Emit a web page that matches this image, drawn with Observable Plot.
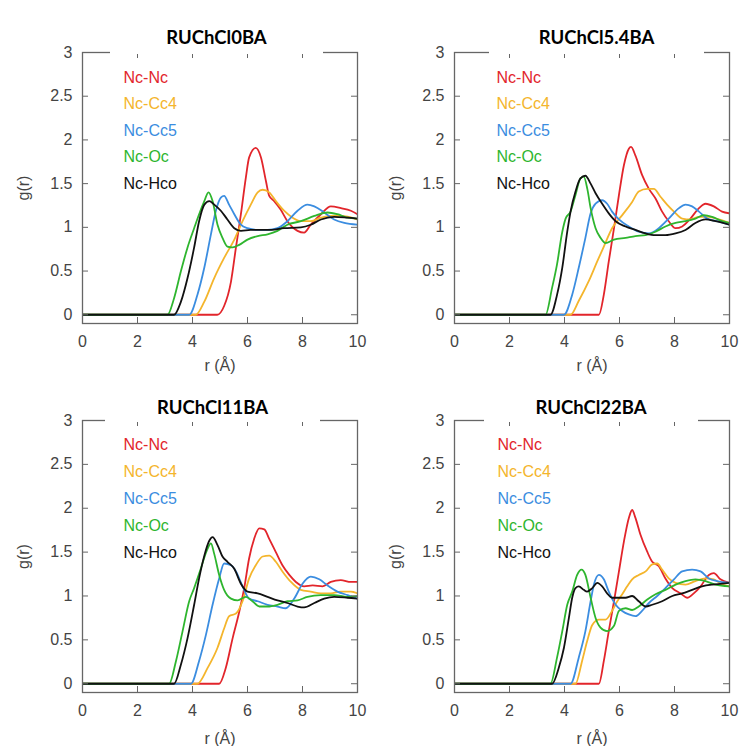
<!DOCTYPE html>
<html><head><meta charset="utf-8">
<script src="https://cdn.jsdelivr.net/npm/d3@7"></script>
<script src="https://cdn.jsdelivr.net/npm/@observablehq/plot@0.6"></script>
<style>
body{margin:0;background:#fff;}
#wrap{position:relative;width:742px;height:746px;overflow:hidden;background:#fff;}
.cell{position:absolute;width:371px;height:373px;}
.cell svg{overflow:visible;}
.tbox{position:absolute;background:#fff;box-sizing:border-box;font-family:Lato,"Liberation Sans",sans-serif;font-weight:700;font-size:18.5px;line-height:20px;color:#000;text-align:center;}
</style></head><body><div id="wrap"></div>
<script>
// ---- data ----
const rTicks = [0, 2, 4, 6, 8, 10];
const gTicks = [0, 0.5, 1, 1.5, 2, 2.5, 3];
const seriesNames = ["Nc-Nc", "Nc-Cc4", "Nc-Cc5", "Nc-Oc", "Nc-Hco"];
const seriesColors = ["#e2252b", "#f4b52c", "#3b8de0", "#2eb52e", "#111111"];
const panelTitles = ["RUChCl0BA", "RUChCl5.4BA", "RUChCl11BA", "RUChCl22BA"];

// panel 1: RUChCl0BA  ([r, g(r)])
const p1_NcNc = [[0,0],[4.2,0],[4.9,0],[5.15,0.1],[5.4,0.38],[5.58,0.77],[5.76,1.15],[5.94,1.57],[6.06,1.8],[6.3,1.91],[6.49,1.8],[6.67,1.53],[6.79,1.36],[6.97,1.3],[7.21,1.2],[7.45,1.07],[7.82,0.96],[8.06,0.94],[8.3,1.03],[8.67,1.15],[9.03,1.24],[9.4,1.22],[9.76,1.19],[10,1.15]];
const p1_NcCc4 = [[0,0],[4.12,0],[4.43,0.15],[4.79,0.42],[5.15,0.65],[5.52,0.86],[5.82,1.07],[6.12,1.26],[6.37,1.4],[6.55,1.43],[6.79,1.4],[7.03,1.3],[7.33,1.19],[7.64,1.11],[7.94,1.07],[8.3,1.07],[8.67,1.11],[9.03,1.13],[9.4,1.13],[10,1.09]];
const p1_NcCc5 = [[0,0],[3.88,0],[4.18,0.23],[4.43,0.54],[4.67,0.92],[4.85,1.19],[5.03,1.34],[5.15,1.36],[5.33,1.26],[5.52,1.15],[5.76,1.03],[6.0,0.99],[6.37,0.97],[6.73,0.97],[7.09,0.99],[7.45,1.07],[7.82,1.19],[8.18,1.26],[8.43,1.24],[8.79,1.17],[9.15,1.09],[9.52,1.05],[10,1.03]];
const p1_NcOc = [[0,0],[3.09,0],[3.33,0.19],[3.58,0.5],[3.82,0.77],[4.06,0.99],[4.24,1.15],[4.43,1.3],[4.58,1.4],[4.73,1.3],[4.91,1.03],[5.09,0.88],[5.27,0.78],[5.46,0.77],[5.7,0.8],[6.0,0.86],[6.37,0.9],[6.73,0.92],[7.09,0.96],[7.45,1.03],[7.94,1.07],[8.43,1.13],[8.91,1.17],[9.27,1.15],[9.64,1.11],[10,1.1]];
const p1_NcHco = [[0,0],[3.33,0],[3.58,0.15],[3.82,0.42],[4.06,0.77],[4.24,1.07],[4.43,1.26],[4.61,1.3],[4.79,1.26],[5.03,1.19],[5.27,1.09],[5.52,0.99],[5.76,0.96],[6.12,0.97],[6.73,0.97],[7.33,0.99],[7.94,1.0],[8.3,1.03],[8.67,1.09],[9.15,1.12],[9.64,1.11],[10,1.1]];

// panel 2: RUChCl5.4BA
const p2_NcNc = [[0,0],[5.25,0],[5.43,0.23],[5.61,0.61],[5.8,0.99],[5.98,1.37],[6.16,1.71],[6.34,1.9],[6.42,1.92],[6.58,1.82],[6.82,1.6],[7.07,1.44],[7.31,1.33],[7.55,1.18],[7.79,1.07],[8.04,0.99],[8.28,1.01],[8.58,1.1],[8.89,1.22],[9.13,1.27],[9.43,1.24],[9.73,1.18],[10,1.16]];
const p2_NcCc4 = [[0,0],[4.22,0],[4.52,0.16],[4.89,0.39],[5.19,0.61],[5.43,0.78],[5.73,0.99],[6.1,1.14],[6.46,1.29],[6.7,1.41],[7.01,1.44],[7.25,1.44],[7.49,1.35],[7.73,1.26],[7.98,1.18],[8.28,1.1],[8.58,1.09],[8.89,1.12],[9.25,1.12],[9.61,1.09],[10,1.05]];
const p2_NcCc5 = [[0,0],[3.98,0],[4.28,0.23],[4.52,0.54],[4.76,0.88],[4.95,1.16],[5.13,1.27],[5.37,1.31],[5.55,1.27],[5.73,1.18],[5.98,1.09],[6.34,1.01],[6.7,0.95],[7.07,0.93],[7.43,0.99],[7.79,1.1],[8.16,1.22],[8.4,1.26],[8.64,1.24],[8.89,1.18],[9.19,1.1],[9.55,1.07],[10,1.03]];
const p2_NcOc = [[0,0],[3.31,0],[3.55,0.31],[3.73,0.58],[3.92,0.95],[4.04,1.1],[4.22,1.18],[4.4,1.37],[4.58,1.56],[4.7,1.58],[4.83,1.44],[4.95,1.22],[5.13,0.99],[5.31,0.88],[5.49,0.82],[5.8,0.86],[6.22,0.88],[6.58,0.9],[6.95,0.91],[7.31,0.95],[7.67,1.01],[8.04,1.05],[8.4,1.07],[8.76,1.1],[9.07,1.14],[9.37,1.12],[9.73,1.07],[10,1.05]];
const p2_NcHco = [[0,0],[3.49,0],[3.73,0.23],[3.92,0.54],[4.1,0.95],[4.22,1.18],[4.4,1.41],[4.58,1.56],[4.76,1.59],[4.95,1.5],[5.13,1.39],[5.37,1.27],[5.61,1.16],[5.86,1.07],[6.22,1.01],[6.58,0.97],[6.95,0.93],[7.31,0.91],[7.67,0.91],[8.04,0.93],[8.4,0.97],[8.76,1.05],[9.13,1.09],[9.49,1.07],[10,1.03]];

// panel 3: RUChCl11BA
const p3_NcNc = [[0,0],[4.97,0],[5.21,0.18],[5.46,0.52],[5.7,0.82],[5.88,1.09],[6.06,1.43],[6.24,1.65],[6.43,1.77],[6.61,1.76],[6.79,1.65],[7.03,1.5],[7.27,1.35],[7.52,1.24],[7.76,1.16],[8.06,1.11],[8.37,1.12],[8.73,1.11],[9.03,1.16],[9.39,1.18],[9.76,1.16],[10,1.16]];
const p3_NcCc4 = [[0,0],[4.18,0],[4.55,0.18],[4.91,0.41],[5.15,0.63],[5.33,0.77],[5.58,0.8],[5.82,0.94],[6.06,1.2],[6.3,1.35],[6.55,1.45],[6.79,1.46],[7.03,1.39],[7.27,1.28],[7.58,1.16],[7.94,1.07],[8.3,1.05],[8.67,1.03],[9.03,1.03],[9.39,1.05],[9.76,1.05],[10,1.03]];
const p3_NcCc5 = [[0,0],[3.94,0],[4.24,0.26],[4.49,0.56],[4.73,0.9],[4.97,1.2],[5.15,1.37],[5.4,1.35],[5.58,1.28],[5.82,1.11],[6.06,0.97],[6.37,0.94],[6.73,0.9],[7.09,0.88],[7.39,0.86],[7.7,0.97],[8.0,1.14],[8.3,1.22],[8.61,1.19],[8.91,1.12],[9.27,1.05],[9.64,1.01],[10,0.97]];
const p3_NcOc = [[0,0],[3.15,0],[3.4,0.26],[3.64,0.6],[3.88,0.94],[4.06,1.09],[4.3,1.31],[4.55,1.54],[4.67,1.6],[4.79,1.48],[4.97,1.24],[5.15,1.07],[5.4,0.97],[5.64,0.95],[5.94,0.99],[6.18,0.94],[6.43,0.88],[6.73,0.88],[7.09,0.9],[7.45,0.94],[7.82,0.95],[8.18,0.99],[8.67,1.01],[9.15,1.01],[9.64,0.99],[10,1.0]];
const p3_NcHco = [[0,0],[3.33,0],[3.58,0.22],[3.82,0.52],[4.06,0.9],[4.24,1.2],[4.43,1.46],[4.61,1.63],[4.73,1.67],[4.91,1.58],[5.09,1.45],[5.27,1.39],[5.52,1.31],[5.76,1.14],[6.0,1.05],[6.37,1.03],[6.73,0.99],[7.09,0.95],[7.45,0.92],[7.82,0.88],[8.06,0.87],[8.43,0.92],[8.79,0.97],[9.15,0.99],[9.64,0.98],[10,0.97]];

// panel 4: RUChCl22BA
const p4_NcNc = [[0,0],[5.25,0],[5.43,0.26],[5.61,0.6],[5.8,0.94],[5.98,1.28],[6.16,1.62],[6.34,1.89],[6.46,1.98],[6.58,1.89],[6.76,1.7],[7.0,1.51],[7.19,1.39],[7.43,1.34],[7.67,1.2],[7.92,1.09],[8.22,1.03],[8.46,0.98],[8.7,1.03],[8.95,1.11],[9.25,1.24],[9.43,1.26],[9.67,1.19],[10,1.15]];
const p4_NcCc4 = [[0,0],[4.4,0],[4.64,0.26],[4.82,0.48],[5.01,0.67],[5.25,0.73],[5.49,0.73],[5.73,0.83],[5.92,0.94],[6.1,1.02],[6.28,1.11],[6.46,1.19],[6.7,1.24],[6.95,1.28],[7.19,1.36],[7.37,1.37],[7.55,1.3],[7.79,1.2],[8.04,1.15],[8.4,1.13],[8.76,1.17],[9.13,1.2],[9.43,1.19],[9.73,1.13],[10,1.11]];
const p4_NcCc5 = [[0,0],[4.22,0],[4.52,0.3],[4.76,0.6],[4.95,0.94],[5.07,1.13],[5.25,1.24],[5.43,1.19],[5.61,1.05],[5.86,0.9],[6.1,0.83],[6.34,0.79],[6.58,0.77],[6.82,0.83],[7.07,0.92],[7.37,1.0],[7.67,1.09],[7.98,1.19],[8.28,1.28],[8.64,1.3],[8.95,1.28],[9.25,1.2],[9.55,1.17],[10,1.15]];
const p4_NcOc = [[0,0],[3.49,0],[3.73,0.3],[3.92,0.6],[4.1,0.9],[4.28,1.05],[4.46,1.24],[4.62,1.3],[4.76,1.24],[4.95,0.98],[5.13,0.75],[5.31,0.64],[5.55,0.6],[5.8,0.66],[5.98,0.83],[6.22,0.86],[6.46,0.84],[6.7,0.88],[7.01,0.96],[7.31,1.02],[7.67,1.07],[8.04,1.13],[8.4,1.17],[8.76,1.19],[9.13,1.17],[9.49,1.13],[10,1.11]];
const p4_NcHco = [[0,0],[3.55,0],[3.79,0.18],[3.98,0.41],[4.16,0.75],[4.28,0.98],[4.4,1.09],[4.52,1.11],[4.7,1.07],[4.82,1.05],[5.01,1.09],[5.19,1.15],[5.37,1.11],[5.55,1.03],[5.73,0.98],[5.98,0.98],[6.22,0.98],[6.46,1.0],[6.7,0.94],[6.95,0.88],[7.19,0.9],[7.55,0.94],[7.92,1.0],[8.28,1.03],[8.64,1.07],[9.0,1.11],[9.37,1.13],[9.73,1.14],[10,1.15]];

// ---- layout (not data) ----
const W = 371, H = 373;
const panels = [
  {title: panelTitles[0], series: [p1_NcNc, p1_NcCc4, p1_NcCc5, p1_NcOc, p1_NcHco], left: 0,   top: 0,   mt: 52, mb: 50, ml: 82, mr: 14, box: {l: 110, w: 213, t: 15, h: 39, pt: 12}, leg: {dx: 41, dy: 25, step: 26.5}, lo: 47},
  {title: panelTitles[1], series: [p2_NcNc, p2_NcCc4, p2_NcCc5, p2_NcOc, p2_NcHco], left: 371, top: 0,   mt: 52, mb: 50, ml: 83, mr: 13, box: {l: 118, w: 215, t: 15, h: 39, pt: 12}, leg: {dx: 42, dy: 25, step: 26.5}, lo: 47},
  {title: panelTitles[2], series: [p3_NcNc, p3_NcCc4, p3_NcCc5, p3_NcOc, p3_NcHco], left: 0,   top: 373, mt: 47, mb: 54, ml: 82, mr: 14, box: {l: 105, w: 215, t: 15, h: 34, pt: 9}, leg: {dx: 41, dy: 24, step: 27}, lo: 51},
  {title: panelTitles[3], series: [p4_NcNc, p4_NcCc4, p4_NcCc5, p4_NcOc, p4_NcHco], left: 371, top: 373, mt: 47, mb: 54, ml: 83, mr: 13, box: {l: 113, w: 214, t: 15, h: 34, pt: 9}, leg: {dx: 43, dy: 24, step: 27}, lo: 51}
];

const wrap = document.getElementById("wrap");
const fmt = d => String(d);

for (const p of panels) {
  const rows = [];
  p.series.forEach((arr, i) => arr.forEach(([r, g]) => rows.push({r, g, s: seriesNames[i]})));
  const innerH = H - p.mt - p.mb;
  const innerW = W - p.ml - p.mr;
  const tickLen = 6;
  const chart = Plot.plot({
    width: W, height: H,
    marginTop: p.mt, marginBottom: p.mb, marginLeft: p.ml, marginRight: p.mr,
    style: {fontFamily: "'Liberation Sans', Arial, sans-serif", fontSize: "16px", color: "#444", background: "transparent"},
    x: {domain: [0, 10], ticks: rTicks, tickFormat: fmt, tickSize: 0, tickPadding: 12, label: "r (Å)", labelAnchor: "center", labelOffset: p.lo, labelArrow: "none"},
    y: {domain: [-0.1, 3], ticks: gTicks, tickFormat: fmt, tickSize: 0, tickPadding: 10, label: "g(r)", labelAnchor: "center", labelOffset: 65, labelArrow: "none"},
    color: {domain: seriesNames, range: seriesColors},
    marks: [
      Plot.line(rows, {x: "r", y: "g", z: "s", stroke: "s", strokeWidth: 1.8, curve: "monotone-x", clip: true}),
      Plot.tickX(rTicks, {x: d => d, insetTop: innerH - tickLen, stroke: "#666", strokeWidth: 1}),
      Plot.tickX(rTicks, {x: d => d, insetBottom: innerH - tickLen, stroke: "#666", strokeWidth: 1}),
      Plot.tickY(gTicks, {y: d => d, insetRight: innerW - tickLen, stroke: "#666", strokeWidth: 1}),
      Plot.tickY(gTicks, {y: d => d, insetLeft: innerW - tickLen, stroke: "#666", strokeWidth: 1}),
      Plot.frame({stroke: "#666", strokeWidth: 1.3}),
      ...seriesNames.map((n, i) => Plot.text([n], {
        text: d => d, frameAnchor: "top-left", dx: p.leg.dx, dy: p.leg.dy + i * p.leg.step,
        textAnchor: "start", lineAnchor: "middle", fill: seriesColors[i], fontSize: 16
      }))
    ]
  });
  const cell = document.createElement("div");
  cell.className = "cell";
  cell.style.left = p.left + "px";
  cell.style.top = p.top + "px";
  cell.appendChild(chart);
  const box = document.createElement("div");
  box.className = "tbox";
  box.style.left = p.box.l + "px";
  box.style.top = p.box.t + "px";
  box.style.width = p.box.w + "px";
  box.style.height = p.box.h + "px";
  box.style.paddingTop = p.box.pt + "px";
  box.textContent = p.title;
  cell.appendChild(box);
  wrap.appendChild(cell);
}
</script>
</body></html>
